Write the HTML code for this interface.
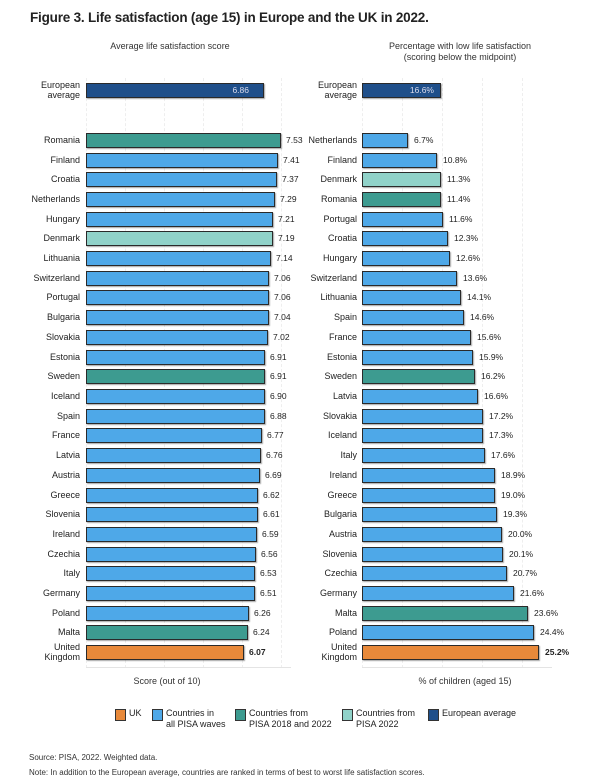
<!DOCTYPE html><html><head><style>
body{margin:0;width:600px;height:784px;background:#fff;font-family:"Liberation Sans",sans-serif;color:#222;position:relative;overflow:hidden}
.a{position:absolute}
.t{left:30px;top:10px;font-size:13.5px;font-weight:bold;letter-spacing:-.2px}
.h{font-size:9px;text-align:center;color:#333;line-height:11px}
.row{position:absolute;height:15px;font-size:9px;line-height:15px}
.row .l{position:absolute;text-align:right;width:80px;left:0}
.row .b{position:absolute;height:13px;border:1px solid #2a2a2a;box-shadow:1px 1px 1px rgba(0,0,0,.35);background:#4ea8e8}
.row .v{position:absolute;font-size:8.5px}
.L .l{left:0;width:80px}.L .b{left:86px}
.R .l{left:285px;width:72px}.R .b{left:362px}
.row .b.g,.g{background:#3d9b90}.row .b.lt,.lt{background:#90d2c9}.n{background:#1f4f8a}.row .b.o,.o{background:#e8893a}
.grid{position:absolute;top:78px;height:590px;border-left:1px dashed #eee;width:0}
.lg{position:absolute;top:708px;font-size:9px;line-height:11px}
.sq{position:absolute;width:9px;height:10px;border:1px solid #333;top:1px}
.ml{position:absolute;font-size:9px;line-height:10px;text-align:right}
</style></head><body>
<div class="a t">Figure 3. Life satisfaction (age 15) in Europe and the UK in 2022.</div>
<div class="a h" style="left:60px;width:220px;top:41px">Average life satisfaction score</div>
<div class="a h" style="left:350px;width:220px;top:41px">Percentage with low life satisfaction<br>(scoring below the midpoint)</div>
<div class="grid" style="left:86px"></div><div class="grid" style="left:125px"></div><div class="grid" style="left:164px"></div><div class="grid" style="left:203px"></div><div class="grid" style="left:242px"></div><div class="grid" style="left:281px"></div>
<div class="grid" style="left:362px"></div><div class="grid" style="left:402px"></div><div class="grid" style="left:442px"></div><div class="grid" style="left:482px"></div><div class="grid" style="left:522px"></div>
<div class="a" style="left:86px;top:667px;width:205px;border-top:1px solid #e4e4e4"></div>
<div class="a" style="left:362px;top:667px;width:190px;border-top:1px solid #e4e4e4"></div>

<div class="ml" style="left:0;width:80px;top:80px">European<br>average</div>
<div class="a n" style="left:86px;top:83px;width:176px;height:13px;border:1px solid #2a2a2a;box-shadow:1px 1px 1px rgba(0,0,0,.35);color:#dde;font-size:8.5px;line-height:13px;text-align:right;box-sizing:content-box"><span style="padding-right:14px">6.86</span></div>
<div class="ml" style="left:280px;width:77px;top:80px">European<br>average</div>
<div class="a n" style="left:362px;top:83px;width:77px;height:13px;border:1px solid #2a2a2a;box-shadow:1px 1px 1px rgba(0,0,0,.35);color:#dde;font-size:8.5px;line-height:13px;text-align:right"><span style="padding-right:6px">16.6%</span></div>

<div class="row L" style="top:133px"><div class="l">Romania</div><div class="b g" style="width:193px"></div><div class="v" style="left:286px">7.53</div></div>
<div class="row L" style="top:153px"><div class="l">Finland</div><div class="b" style="width:190px"></div><div class="v" style="left:283px">7.41</div></div>
<div class="row L" style="top:172px"><div class="l">Croatia</div><div class="b" style="width:189px"></div><div class="v" style="left:282px">7.37</div></div>
<div class="row L" style="top:192px"><div class="l">Netherlands</div><div class="b" style="width:187px"></div><div class="v" style="left:280px">7.29</div></div>
<div class="row L" style="top:212px"><div class="l">Hungary</div><div class="b" style="width:185px"></div><div class="v" style="left:278px">7.21</div></div>
<div class="row L" style="top:231px"><div class="l">Denmark</div><div class="b lt" style="width:185px"></div><div class="v" style="left:278px">7.19</div></div>
<div class="row L" style="top:251px"><div class="l">Lithuania</div><div class="b" style="width:183px"></div><div class="v" style="left:276px">7.14</div></div>
<div class="row L" style="top:271px"><div class="l">Switzerland</div><div class="b" style="width:181px"></div><div class="v" style="left:274px">7.06</div></div>
<div class="row L" style="top:290px"><div class="l">Portugal</div><div class="b" style="width:181px"></div><div class="v" style="left:274px">7.06</div></div>
<div class="row L" style="top:310px"><div class="l">Bulgaria</div><div class="b" style="width:181px"></div><div class="v" style="left:274px">7.04</div></div>
<div class="row L" style="top:330px"><div class="l">Slovakia</div><div class="b" style="width:180px"></div><div class="v" style="left:273px">7.02</div></div>
<div class="row L" style="top:350px"><div class="l">Estonia</div><div class="b" style="width:177px"></div><div class="v" style="left:270px">6.91</div></div>
<div class="row L" style="top:369px"><div class="l">Sweden</div><div class="b g" style="width:177px"></div><div class="v" style="left:270px">6.91</div></div>
<div class="row L" style="top:389px"><div class="l">Iceland</div><div class="b" style="width:177px"></div><div class="v" style="left:270px">6.90</div></div>
<div class="row L" style="top:409px"><div class="l">Spain</div><div class="b" style="width:177px"></div><div class="v" style="left:270px">6.88</div></div>
<div class="row L" style="top:428px"><div class="l">France</div><div class="b" style="width:174px"></div><div class="v" style="left:267px">6.77</div></div>
<div class="row L" style="top:448px"><div class="l">Latvia</div><div class="b" style="width:173px"></div><div class="v" style="left:266px">6.76</div></div>
<div class="row L" style="top:468px"><div class="l">Austria</div><div class="b" style="width:172px"></div><div class="v" style="left:265px">6.69</div></div>
<div class="row L" style="top:488px"><div class="l">Greece</div><div class="b" style="width:170px"></div><div class="v" style="left:263px">6.62</div></div>
<div class="row L" style="top:507px"><div class="l">Slovenia</div><div class="b" style="width:170px"></div><div class="v" style="left:263px">6.61</div></div>
<div class="row L" style="top:527px"><div class="l">Ireland</div><div class="b" style="width:169px"></div><div class="v" style="left:262px">6.59</div></div>
<div class="row L" style="top:547px"><div class="l">Czechia</div><div class="b" style="width:168px"></div><div class="v" style="left:261px">6.56</div></div>
<div class="row L" style="top:566px"><div class="l">Italy</div><div class="b" style="width:167px"></div><div class="v" style="left:260px">6.53</div></div>
<div class="row L" style="top:586px"><div class="l">Germany</div><div class="b" style="width:167px"></div><div class="v" style="left:260px">6.51</div></div>
<div class="row L" style="top:606px"><div class="l">Poland</div><div class="b" style="width:161px"></div><div class="v" style="left:254px">6.26</div></div>
<div class="row L" style="top:625px"><div class="l">Malta</div><div class="b g" style="width:160px"></div><div class="v" style="left:253px">6.24</div></div>
<div class="row L" style="top:645px"><div class="ml" style="left:0;width:80px;top:-3px">United<br>Kingdom</div><div class="b o" style="width:156px"></div><div class="v" style="left:249px;font-weight:bold">6.07</div></div>

<div class="row R" style="top:133px"><div class="l">Netherlands</div><div class="b" style="width:44px"></div><div class="v" style="left:414px">6.7%</div></div>
<div class="row R" style="top:153px"><div class="l">Finland</div><div class="b" style="width:73px"></div><div class="v" style="left:443px">10.8%</div></div>
<div class="row R" style="top:172px"><div class="l">Denmark</div><div class="b lt" style="width:77px"></div><div class="v" style="left:447px">11.3%</div></div>
<div class="row R" style="top:192px"><div class="l">Romania</div><div class="b g" style="width:77px"></div><div class="v" style="left:447px">11.4%</div></div>
<div class="row R" style="top:212px"><div class="l">Portugal</div><div class="b" style="width:79px"></div><div class="v" style="left:449px">11.6%</div></div>
<div class="row R" style="top:231px"><div class="l">Croatia</div><div class="b" style="width:84px"></div><div class="v" style="left:454px">12.3%</div></div>
<div class="row R" style="top:251px"><div class="l">Hungary</div><div class="b" style="width:86px"></div><div class="v" style="left:456px">12.6%</div></div>
<div class="row R" style="top:271px"><div class="l">Switzerland</div><div class="b" style="width:93px"></div><div class="v" style="left:463px">13.6%</div></div>
<div class="row R" style="top:290px"><div class="l">Lithuania</div><div class="b" style="width:97px"></div><div class="v" style="left:467px">14.1%</div></div>
<div class="row R" style="top:310px"><div class="l">Spain</div><div class="b" style="width:100px"></div><div class="v" style="left:470px">14.6%</div></div>
<div class="row R" style="top:330px"><div class="l">France</div><div class="b" style="width:107px"></div><div class="v" style="left:477px">15.6%</div></div>
<div class="row R" style="top:350px"><div class="l">Estonia</div><div class="b" style="width:109px"></div><div class="v" style="left:479px">15.9%</div></div>
<div class="row R" style="top:369px"><div class="l">Sweden</div><div class="b g" style="width:111px"></div><div class="v" style="left:481px">16.2%</div></div>
<div class="row R" style="top:389px"><div class="l">Latvia</div><div class="b" style="width:114px"></div><div class="v" style="left:484px">16.6%</div></div>
<div class="row R" style="top:409px"><div class="l">Slovakia</div><div class="b" style="width:119px"></div><div class="v" style="left:489px">17.2%</div></div>
<div class="row R" style="top:428px"><div class="l">Iceland</div><div class="b" style="width:119px"></div><div class="v" style="left:489px">17.3%</div></div>
<div class="row R" style="top:448px"><div class="l">Italy</div><div class="b" style="width:121px"></div><div class="v" style="left:491px">17.6%</div></div>
<div class="row R" style="top:468px"><div class="l">Ireland</div><div class="b" style="width:131px"></div><div class="v" style="left:501px">18.9%</div></div>
<div class="row R" style="top:488px"><div class="l">Greece</div><div class="b" style="width:131px"></div><div class="v" style="left:501px">19.0%</div></div>
<div class="row R" style="top:507px"><div class="l">Bulgaria</div><div class="b" style="width:133px"></div><div class="v" style="left:503px">19.3%</div></div>
<div class="row R" style="top:527px"><div class="l">Austria</div><div class="b" style="width:138px"></div><div class="v" style="left:508px">20.0%</div></div>
<div class="row R" style="top:547px"><div class="l">Slovenia</div><div class="b" style="width:139px"></div><div class="v" style="left:509px">20.1%</div></div>
<div class="row R" style="top:566px"><div class="l">Czechia</div><div class="b" style="width:143px"></div><div class="v" style="left:513px">20.7%</div></div>
<div class="row R" style="top:586px"><div class="l">Germany</div><div class="b" style="width:150px"></div><div class="v" style="left:520px">21.6%</div></div>
<div class="row R" style="top:606px"><div class="l">Malta</div><div class="b g" style="width:164px"></div><div class="v" style="left:534px">23.6%</div></div>
<div class="row R" style="top:625px"><div class="l">Poland</div><div class="b" style="width:170px"></div><div class="v" style="left:540px">24.4%</div></div>
<div class="row R" style="top:645px"><div class="ml" style="left:280px;width:77px;top:-3px">United<br>Kingdom</div><div class="b o" style="width:175px"></div><div class="v" style="left:545px;font-weight:bold">25.2%</div></div>

<div class="a h" style="left:87px;width:160px;top:676px">Score (out of 10)</div>
<div class="a h" style="left:385px;width:160px;top:676px">% of children (aged 15)</div>

<div class="lg" style="left:115px"><div class="sq o"></div><div style="position:absolute;left:14px">UK</div></div>
<div class="lg" style="left:152px"><div class="sq" style="background:#4ea8e8"></div><div style="position:absolute;left:14px;width:80px">Countries in<br>all PISA waves</div></div>
<div class="lg" style="left:235px"><div class="sq g"></div><div style="position:absolute;left:14px;width:100px">Countries from<br>PISA 2018 and 2022</div></div>
<div class="lg" style="left:342px"><div class="sq lt"></div><div style="position:absolute;left:14px;width:80px">Countries from<br>PISA 2022</div></div>
<div class="lg" style="left:428px"><div class="sq n"></div><div style="position:absolute;left:14px;width:100px">European average</div></div>

<div class="a" style="left:29px;top:753px;font-size:8px;color:#333">Source: PISA, 2022. Weighted data.</div>
<div class="a" style="left:29px;top:768px;font-size:8px;color:#333">Note: In addition to the European average, countries are ranked in terms of best to worst life satisfaction scores.</div>
</body></html>
